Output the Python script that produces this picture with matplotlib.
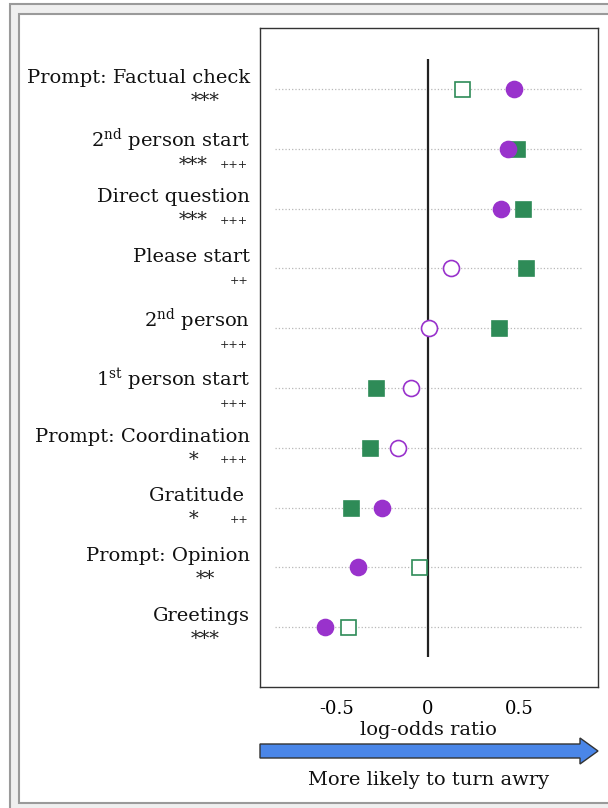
import matplotlib
matplotlib.use("Agg")
import matplotlib.pyplot as plt
from matplotlib.patches import Rectangle, FancyArrow

plt.rcParams["font.family"] = "DejaVu Serif"
plt.rcParams["mathtext.fontset"] = "dejavuserif"

# features, top to bottom
features = [
    "Prompt: Factual check",
    "2$^{\\rm nd}$ person start",
    "Direct question",
    "Please start",
    "2$^{\\rm nd}$ person",
    "1$^{\\rm st}$ person start",
    "Prompt: Coordination",
    "Gratitude ",
    "Prompt: Opinion",
    "Greetings",
]
# log-odds ratios for the two comparisons (circles / squares)
circle_vals = [0.47, 0.44, 0.40, 0.125, 0.005, -0.095, -0.165, -0.255, -0.385, -0.565]
circle_filled = [True, True, True, False, False, False, False, True, True, True]
square_vals = [0.185, 0.49, 0.52, 0.54, 0.39, -0.285, -0.32, -0.425, -0.05, -0.44]
square_filled = [False, True, True, True, True, True, True, True, False, False]
# significance markers
stars = ["***", "***", "***", "", "", "", "*", "*", "**", "***"]
pluses = ["", "+++", "+++", "++", "+++", "+++", "+++", "++", "", ""]

purple = "#9932cc"
green = "#2e8b57"

fig = plt.figure(figsize=(6.08, 8.08), dpi=100)
fig.patch.set_facecolor("white")

# outer frame around the whole figure
fig.patches.append(Rectangle((0.095, -0.3), 7.0, 8.335, transform=fig.dpi_scale_trans,
                             facecolor="#efefef", edgecolor="#9a9a9a", lw=1.5, zorder=-10))
fig.patches.append(Rectangle((0.185, 0.05), 7.0, 7.895, transform=fig.dpi_scale_trans,
                             facecolor="white", edgecolor="#9a9a9a", lw=1.5, zorder=-9))

ax = fig.add_axes([260 / 608, 121 / 808, 338 / 608, 659 / 808])
rows = list(range(len(features)))

ax.hlines(rows, -0.84, 0.85, colors="#b8b8b8", linestyles=":", linewidth=0.9, zorder=1)
ax.vlines(0, -0.5, len(features) - 0.5, colors="#222222", linewidth=1.6, zorder=2)

for y, v, f in zip(rows, square_vals, square_filled):
    ax.plot(v, y, marker="s", markersize=10.8, linestyle="none",
            markerfacecolor=green if f else "white", markeredgecolor=green,
            markeredgewidth=1.2, zorder=3)
for y, v, f in zip(rows, circle_vals, circle_filled):
    ax.plot(v, y, marker="o", markersize=11.5, linestyle="none",
            markerfacecolor=purple if f else "white", markeredgecolor=purple,
            markeredgewidth=1.2, zorder=4)

ax.set_xlim(-0.923, 0.934)
ax.set_ylim(10.0, -1.02)
ax.set_xticks([-0.5, 0, 0.5])
ax.set_xticklabels(["-0.5", "0", "0.5"], fontsize=13)
ax.tick_params(axis="x", length=0, pad=9)
ax.set_yticks([])
for s in ax.spines.values():
    s.set_color("#333333")
    s.set_linewidth(1.0)

# feature names with significance markers underneath
tr = ax.get_yaxis_transform()
for y, name, st, pl in zip(rows, features, stars, pluses):
    # labels with a superscript sit a little lower
    dy = -2.2 if "$" in name else 0.0
    ax.annotate(name, xy=(-0.03, y), xycoords=tr, xytext=(0, 8 + dy),
                textcoords="offset points", ha="right", va="center",
                fontsize=14, color="#111111", annotation_clip=False)
    if st:
        sx = -0.198 if pl else -0.163
        ax.annotate(st, xy=(sx, y), xycoords=tr, xytext=(0, -8.5 + dy * 1.3),
                    textcoords="offset points", ha="center", va="center",
                    fontsize=14, color="#222222", annotation_clip=False)
    if pl:
        ax.annotate(pl, xy=(-0.035, y), xycoords=tr, xytext=(0, -9 + dy * 1.3),
                    textcoords="offset points", ha="right", va="center",
                    fontsize=8, color="#222222", annotation_clip=False)

fig.text(428 / 608, 1 - 730 / 808, "log-odds ratio", ha="center", va="center",
         fontsize=14, color="#111111")

# direction arrow below the axis
fig.patches.append(FancyArrow(2.60, 0.57, 3.38, 0, width=0.14, head_width=0.26,
                              head_length=0.18, length_includes_head=True,
                              transform=fig.dpi_scale_trans,
                              facecolor="#4a86e8", edgecolor="#333333", lw=1.0))
fig.text(429 / 608, 1 - 780 / 808, "More likely to turn awry", ha="center",
         va="center", fontsize=14, color="#111111")

fig.savefig("out.png", dpi=100)
